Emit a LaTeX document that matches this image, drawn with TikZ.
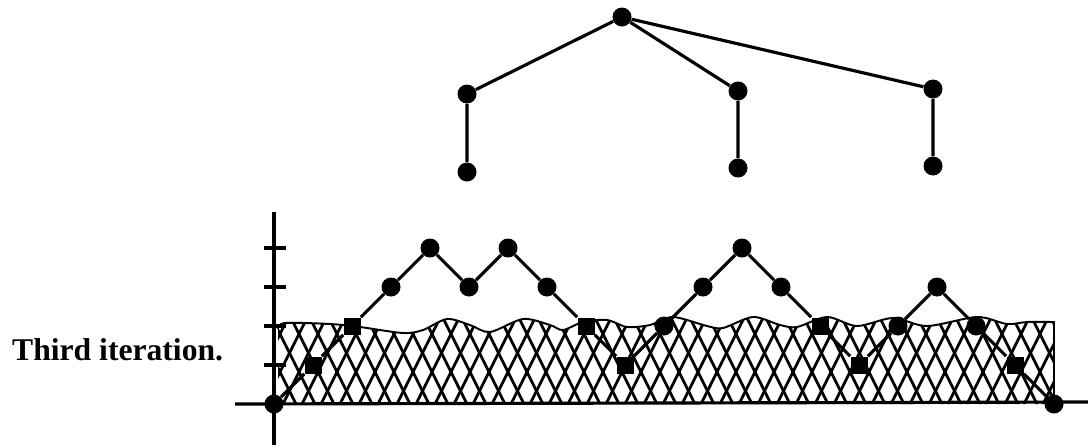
\documentclass[tikz,border=0pt]{standalone}
\usepackage{fontspec}
\setmainfont{Liberation Serif}
\usetikzlibrary{positioning}
\tikzset{
	dot/.style={fill, inner sep=0pt, minimum size=0.38cm}
}
\tikzset{
	edge/.style={line width=1.8pt}
}
\tikzset{
	hatch/.style={line width=1.6pt}
}
\newcommand{\wavetop}{(278,329) (285,323) (330,324) (360,327) (403,333) (423,330) (447,319) (470,325) (490,332) (523,319) (550,325) (563,330) (583,322) (607,320) (627,327) (650,325) (673,317) (707,326) (723,328) (753,317) (780,325) (797,327) (827,317) (857,326) (893,318) (927,326) (977,317) (1007,324) (1027,322) (1054,322)}

\begin{document}
\begin{tikzpicture}[x=0.02cm, y=-0.02cm]
  \useasboundingbox (0,0) rectangle (1088,447);
  % tree
  \node[dot, circle] (t0) at (622,17) {};
  \node[dot, circle] (t1) at (467,94) {};
  \node[dot, circle] (t2) at (738,91) {};
  \node[dot, circle] (t3) at (933,89) {};
  \node[dot, circle] (l1) at (467,172) {};
  \node[dot, circle] (l2) at (738,168) {};
  \node[dot, circle] (l3) at (933,166) {};
  \foreach \c in {1,2,3}
    \draw[edge] (t0) -- (t\c) -- (l\c);

  % hatched area under the wave
  \begin{scope}
    \clip (278,404) -- plot[smooth] coordinates {\wavetop} -- (1054,404) -- cycle;
    \foreach \i in {-4,...,44} {
      \draw[hatch] (280+19*\i,410) -- ++(55,-110);
      \draw[hatch] (280+19*\i,410) -- ++(-55,-110);
    }
  \end{scope}
  \draw[line width=1.1pt] plot[smooth] coordinates {\wavetop};
  \draw[hatch] (1054,321) -- (1054,404);

  % axes
  \coordinate (yb) at (274,445);
  \coordinate (yt) at (274,212);
  \coordinate (xl) at (235,404);
  \coordinate (xr) at (1088,402);
  \draw[edge] (yb) -- (yt);
  \draw[edge] (xl) -- (xr);
  \foreach \h in {1,2,3,4}
    \draw[edge] (264,404-39*\h) -- (286,404-39*\h);

  % third iteration path
  \foreach \h/\s/\w [count=\i from 0] in {0/circle/.38,1/rectangle/.34,2/rectangle/.34,3/circle/.38,4/circle/.38,3/circle/.38,4/circle/.38,3/circle/.38,2/rectangle/.34,1/rectangle/.34,2/circle/.38,3/circle/.38,4/circle/.38,3/circle/.38,2/rectangle/.34,1/rectangle/.34,2/circle/.38,3/circle/.38,2/circle/.38,1/rectangle/.34,0/circle/.38}
    \node[dot, shape=\s, minimum size=\w cm] (p\i) at (274+39*\i,404-39*\h) {};
  \foreach \i [evaluate=\i as \j using int(\i+1)] in {0,...,19}
    \draw[edge] (p\i) -- (p\j);

  \node[anchor=base west, font=\fontsize{18}{21}\selectfont\bfseries] (lbl) at (6,360) {Third iteration.};
\end{tikzpicture}
\end{document}
